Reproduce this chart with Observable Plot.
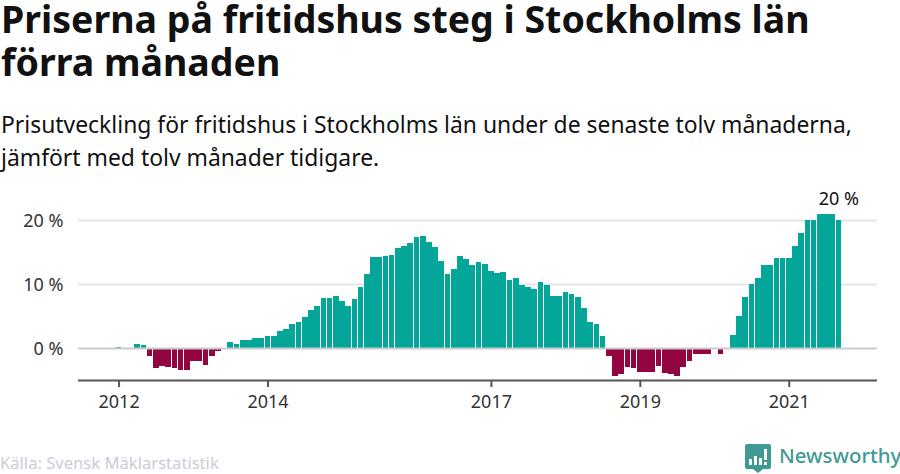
<!DOCTYPE html>
<html lang="sv"><head><meta charset="utf-8">
<script src="https://cdn.jsdelivr.net/npm/d3@7"></script>
<script src="https://cdn.jsdelivr.net/npm/@observablehq/plot@0.6"></script>
<style>
html,body{margin:0;padding:0;background:#fff;width:900px;height:474px;overflow:hidden;font-family:"Noto Sans",sans-serif}
#wrap{position:relative;width:900px;height:474px}
h1{position:absolute;left:1px;top:-3px;margin:0;font-size:37.5px;line-height:43px;font-weight:700;color:#111;width:890px}
#sub{position:absolute;left:1px;top:108px;font-size:22.9px;line-height:33px;color:#111;width:890px}
#chart{position:absolute;left:0;top:180px}
#src{position:absolute;left:0;top:453px;font-size:16.6px;line-height:20px;color:#ccccd6}
#brand{position:absolute;left:779px;top:441px;font-size:20.4px;line-height:28px;font-weight:500;color:#3f9a94;white-space:nowrap}
#logo{position:absolute;left:745px;top:444px}
</style></head><body>
<div id="wrap">
<h1>Priserna på fritidshus steg i Stockholms län förra månaden</h1>
<div id="sub">Prisutveckling för fritidshus i Stockholms län under de senaste tolv månaderna, jämfört med tolv månader tidigare.</div>
<div id="chart"></div>
<div id="src">Källa: Svensk Mäklarstatistik</div>
<svg id="logo" width="26" height="30" viewBox="0 0 26 30"><path d="M2 0H24a2 2 0 0 1 2 2V23a2 2 0 0 1-2 2H18L13 29L8 25H2a2 2 0 0 1-2-2V2a2 2 0 0 1 2-2Z" fill="#3f9a94"/><g fill="#fff"><rect x="4" y="15" width="3" height="6"/><rect x="9" y="12" width="3" height="9"/><rect x="14" y="14" width="3" height="7"/><rect x="19" y="5" width="3" height="11"/><rect x="19" y="18" width="3" height="3"/></g></svg>
<div id="brand">Newsworthy</div>
</div>
<script>
const firstMonth = "2012-01";
const values = [
0.2,0,0,0.7,0.4,-1.2,-3.1,-2.8,-3,-3.2,-3.4,-3.5,
-2.1,-2.1,-2.6,-1.3,-0.5,0,0.9,0.7,1.2,1.2,1.5,1.6,
1.8,1.9,2.7,2.9,3.7,4,4.8,5.9,6.6,7.8,7.8,8.1,
7.4,6.6,7.7,9.5,11.5,14.2,14.2,14.3,14.5,15.6,15.9,16.4,
17.3,17.5,16.5,15.8,13.6,11.5,12.3,14.3,13.9,12.9,13.4,13.1,
12.1,11.7,11.8,10.7,10.9,9.9,9.6,9.2,10.3,9.8,8.2,8.1,
8.7,8.4,7.9,6.2,4.1,3.7,1.8,-1.2,-4.3,-4.1,-2.9,-3.2,
-3.8,-3.7,-3.8,-2.8,-3.9,-4,-4.3,-3,-2.1,-1,-1,-1,
0,-1,0,2,5,8,10,11,13,13,14,14,
14,16,18,20,20,21,21,21,20];
const yearTicks = ["2012-01","2014-01","2017-01","2019-01","2021-01"];
const yTicks = [0,10,20];
const lastLabel = "20 %";

const fmt = d3.utcFormat("%Y-%m");
const domain = d3.utcMonth.range(new Date(Date.UTC(2011,6,1)), new Date(Date.UTC(2022,3,1))).map(fmt);
const start = new Date(firstMonth + "-01T00:00Z");
const rows = values.map((v,i)=>({month: fmt(d3.utcMonth.offset(start,i)), v, sign: v<0?"neg":"pos"}));
const last = rows[rows.length-1];

const chart = Plot.plot({
  width:900, height:240,
  marginLeft:78, marginRight:23, marginTop:20, marginBottom:40,
  style:{fontFamily:'"Noto Sans",sans-serif', fontSize:"18px", background:"transparent"},
  x:{type:"band", domain, range:[78,879], padding:0.08, round:false, label:null},
  y:{domain:[-5,23.125], label:null},
  color:{domain:["pos","neg"], range:["#00a498","#91003c"]},
  marks:[
    Plot.ruleY(yTicks.filter(d=>d!==0),{stroke:"#e4e4e4",strokeWidth:2,strokeOpacity:1}),
    Plot.barY(rows,{x:"month",y:"v",fill:"sign",fillOpacity:0.98,shapeRendering:"crispEdges"}),
    Plot.ruleY([0],{stroke:"#cccccc",strokeWidth:2,strokeOpacity:1}),
    Plot.ruleY([-5],{stroke:"#555555",strokeWidth:2,strokeOpacity:1}),
    Plot.axisY({ticks:yTicks,tickSize:0,tickPadding:15,tickFormat:d=>d+" %",fill:"#333",label:null,marginLeft:78,fontSize:18,dy:1}),
    Plot.axisX({ticks:yearTicks,tickSize:7,tickPadding:8,tickFormat:d=>d.slice(0,4),stroke:"#555",strokeWidth:2,strokeOpacity:1,fill:"#333",label:null,fontSize:18}),
    Plot.text([last],{x:"month",y:"v",text:()=>lastLabel,dy:-21,fill:"#111",fontSize:18})
  ]
});
document.getElementById("chart").append(chart);
</script>
</body></html>
